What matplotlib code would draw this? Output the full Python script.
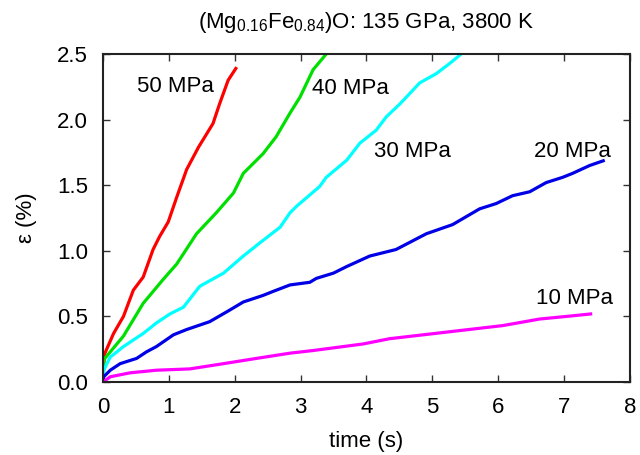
import matplotlib
matplotlib.use("Agg")
import matplotlib.pyplot as plt

plt.rcParams['font.family'] = ['Liberation Sans', 'DejaVu Sans']
plt.rcParams['mathtext.fontset'] = 'custom'
plt.rcParams['mathtext.rm'] = 'Liberation Sans'
plt.rcParams['mathtext.it'] = 'Liberation Sans'

# Creep strain curves (time in s, strain in %) at each applied stress
t_50 = [0.0, 0.02, 0.16, 0.31, 0.46, 0.61, 0.76, 0.86, 0.99, 1.12, 1.27, 1.45, 1.67, 1.77, 1.90, 2.03]
e_50 = [0.0, 0.21, 0.37, 0.50, 0.70, 0.80, 1.01, 1.11, 1.22, 1.41, 1.62, 1.79, 1.97, 2.12, 2.30, 2.40]

t_40 = [0.0, 0.01, 0.31, 0.61, 0.91, 1.12, 1.42, 1.72, 1.98, 2.13, 2.43, 2.63, 2.84, 2.99, 3.19, 3.39]
e_40 = [0.0, 0.17, 0.35, 0.60, 0.78, 0.90, 1.13, 1.29, 1.44, 1.59, 1.74, 1.87, 2.05, 2.17, 2.38, 2.50]

t_30 = [0.0, 0.01, 0.11, 0.31, 0.61, 0.81, 1.02, 1.22, 1.47, 1.83, 2.13, 2.38, 2.69, 2.84, 2.94,
        3.29, 3.39, 3.70, 3.90, 4.15, 4.30, 4.51, 4.81, 5.06, 5.27, 5.44]
e_30 = [0.0, 0.09, 0.19, 0.27, 0.37, 0.45, 0.52, 0.57, 0.73, 0.83, 0.96, 1.06, 1.18, 1.29, 1.34,
        1.49, 1.56, 1.69, 1.82, 1.92, 2.02, 2.12, 2.28, 2.35, 2.43, 2.50]

t_20 = [0.0, 0.01, 0.11, 0.26, 0.51, 0.66, 0.81, 1.07, 1.27, 1.62, 1.93, 2.13, 2.43, 2.58, 2.84,
        3.14, 3.24, 3.50, 3.70, 4.05, 4.45, 4.91, 5.31, 5.72, 5.97, 6.22, 6.48, 6.73, 6.98, 7.13,
        7.39, 7.62]
e_20 = [0.0, 0.04, 0.09, 0.14, 0.18, 0.23, 0.27, 0.36, 0.40, 0.46, 0.55, 0.61, 0.66, 0.69, 0.74,
        0.76, 0.79, 0.83, 0.88, 0.96, 1.01, 1.13, 1.20, 1.32, 1.36, 1.42, 1.45, 1.52, 1.56, 1.59,
        1.65, 1.69]

t_10 = [0.0, 0.11, 0.41, 0.81, 1.32, 1.83, 2.33, 2.84, 3.19, 3.95, 4.35, 5.21, 6.07, 6.63, 7.04, 7.43]
e_10 = [0.0, 0.04, 0.07, 0.09, 0.10, 0.14, 0.18, 0.22, 0.24, 0.29, 0.33, 0.38, 0.43, 0.48, 0.50, 0.52]

stress_labels = ["50 MPa", "40 MPa", "30 MPa", "20 MPa", "10 MPa"]
label_t = [0.52, 3.18, 4.12, 6.55, 6.58]
label_e = [2.25, 2.24, 1.76, 1.76, 0.64]
colors = ["#ff0000", "#00e000", "#00ffff", "#0000e6", "#ff00ff"]

series = [(t_50, e_50), (t_40, e_40), (t_30, e_30), (t_20, e_20), (t_10, e_10)]

FS = 16

fig = plt.figure(figsize=(6.4, 4.55), dpi=100)
ax = fig.add_axes([0.161, 0.1604, 0.823, 0.7209])

for (t, e), c in zip(series, colors):
    ax.plot(t, e, color=c, lw=2.3, solid_capstyle='butt', clip_on=True)

for lab, x, y in zip(stress_labels, label_t, label_e):
    ax.text(x, y, lab, fontsize=FS, ha='left', va='center', color='black')

ax.set_xlim(0, 8)
ax.set_ylim(0, 2.5)
ax.set_xticks(range(0, 9))
ax.set_yticks([0.0, 0.5, 1.0, 1.5, 2.0, 2.5])
ax.set_yticklabels(["0.0", "0.5", "1.0", "1.5", "2.0", "2.5"])
ax.tick_params(direction='in', top=True, right=True, length=5, width=1,
               labelsize=FS, color='#333333', pad=11)
for s in ax.spines.values():
    s.set_linewidth(1.5)
    s.set_color('#222222')

ax.set_xlabel("time (s)", fontsize=FS, labelpad=9)
ax.set_ylabel("ε (%)", fontsize=FS, labelpad=14)
ax.set_title("(Mg$_{0.16}$Fe$_{0.84}$)O: 135 GPa, 3800 K", fontsize=FS, pad=19)

fig.savefig("out.png", dpi=100)
